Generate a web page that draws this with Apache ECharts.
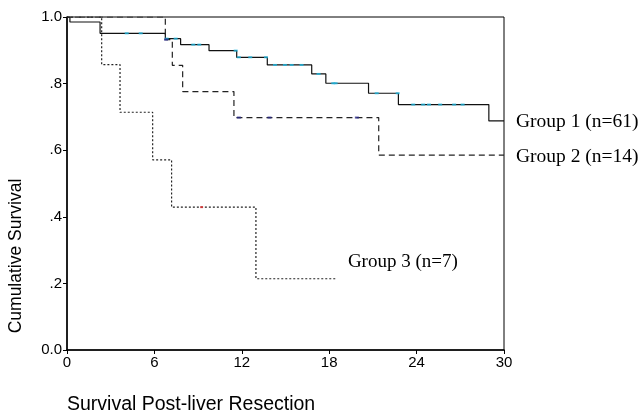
<!DOCTYPE html>
<html><head><meta charset="utf-8">
<script src="https://cdn.jsdelivr.net/npm/echarts@6/dist/echarts.min.js"></script>
<style>html,body{margin:0;padding:0;background:#fff}#c{width:644px;height:418px}</style>
</head><body><div id="c"></div>
<script>
// Kaplan-Meier step data (time in months, cumulative survival)
const g1Times = [0, 0.2, 2.27, 6.75, 7.8, 9.75, 11.65, 13.75, 16.8, 17.77, 20.7, 22.75, 28.96, 30];
const g1Surv  = [1.0, 0.985, 0.951, 0.935, 0.917, 0.899, 0.879, 0.856, 0.829, 0.801, 0.771, 0.737, 0.688, 0.688];
const g2Times = [0, 6.75, 7.23, 7.94, 11.46, 21.4, 30];
const g2Surv  = [1.0, 0.932, 0.855, 0.776, 0.698, 0.585, 0.585];
const g3Times = [0, 2.38, 3.64, 5.88, 7.18, 12.97, 18.46];
const g3Surv  = [1.0, 0.857, 0.714, 0.571, 0.429, 0.214, 0.214];
// censored observation times
const g1Censor = [4.10, 5.06, 6.84, 7.46, 8.67, 9.08, 11.58, 11.8, 12.58, 13.66, 14.28, 14.96, 15.42, 16.1, 17.27, 18.28, 18.44, 21.26, 22.7, 23.77, 24.45, 24.85, 25.62, 26.58, 27.16];
const g2Censor = [6.8, 11.8, 13.9, 19.9];
const g3Censor = [9.24];
const groupLabels = ['Group 1 (n=61)', 'Group 2 (n=14)', 'Group 3 (n=7)'];
const xTicks = [0, 6, 12, 18, 24, 30];
const yTickLabels = {0: '0.0', 0.2: '.2', 0.4: '.4', 0.6: '.6', 0.8: '.8', 1: '1.0'};
const xTitle = 'Survival Post-liver Resection';
const yTitle = 'Cumulative Survival';

function pairs(t, s) { return t.map((v, i) => [v, s[i]]); }
function survAt(t, times, surv) {
  let v = surv[0];
  for (let i = 0; i < times.length; i++) if (times[i] <= t) v = surv[i];
  return v;
}
function censorPts(c, times, surv) { return c.map(t => [t, survAt(t, times, surv)]); }

const chart = echarts.init(document.getElementById('c'), null, {renderer: 'canvas'});
const sans = 'Liberation Sans, Arial, sans-serif';
const serif = 'Liberation Serif, Times New Roman, serif';
chart.setOption({
  animation: false,
  grid: {left: 67, right: 140, top: 17, bottom: 68, show: true, borderColor: '#000', borderWidth: 1, backgroundColor: 'transparent'},
  xAxis: {
    type: 'value', min: 0, max: 30, interval: 6,
    axisLine: {lineStyle: {color: '#000', width: 1.5}},
    axisTick: {show: true, length: 4, lineStyle: {color: '#000'}},
    axisLabel: {color: '#000', fontFamily: sans, fontSize: 15, margin: 5,
      formatter: v => xTicks.includes(v) ? String(v) : ''},
    splitLine: {show: false}
  },
  yAxis: {
    type: 'value', min: 0, max: 1, interval: 0.2,
    axisLine: {show: true, lineStyle: {color: '#000', width: 1.5}},
    axisTick: {show: true, length: 4, lineStyle: {color: '#000'}},
    axisLabel: {color: '#000', fontFamily: sans, fontSize: 15, margin: 5,
      formatter: v => yTickLabels[Math.round(v * 10) / 10] || ''},
    splitLine: {show: false}
  },
  graphic: [
    {type: 'text', left: 67, top: 395,
     style: {text: xTitle, fill: '#000', font: '19.5px ' + sans}},
    {type: 'text', x: 16, y: 256, rotation: Math.PI / 2,
     style: {text: yTitle, fill: '#000', font: '17.5px ' + sans, align: 'center', verticalAlign: 'middle'}}
  ],
  series: [
    {type: 'line', step: 'end', data: pairs(g1Times, g1Surv), symbol: 'none',
     lineStyle: {color: '#111', width: 1.2, type: 'solid'},
     endLabel: {show: true, formatter: groupLabels[0], color: '#000', fontFamily: serif, fontSize: 19.5, distance: 12, offset: [0, 1]}},
    {type: 'line', step: 'end', data: pairs(g2Times, g2Surv), symbol: 'none',
     lineStyle: {color: '#222', width: 1.2, type: [6, 4]},
     endLabel: {show: true, formatter: groupLabels[1], color: '#000', fontFamily: serif, fontSize: 19.5, distance: 12, offset: [0, 2]}},
    {type: 'line', step: 'end', data: pairs(g3Times, g3Surv), symbol: 'none',
     lineStyle: {color: '#222', width: 1.2, type: [2, 2]},
     endLabel: {show: true, formatter: groupLabels[2], color: '#000', fontFamily: serif, fontSize: 19, distance: 12, offset: [0, -17]}},
    {type: 'scatter', data: censorPts(g1Censor, g1Times, g1Surv), symbol: 'rect', symbolSize: [4, 2],
     itemStyle: {color: '#1fb4dc'}, z: 5},
    {type: 'scatter', data: censorPts(g2Censor, g2Times, g2Surv), symbol: 'rect', symbolSize: [4, 2],
     itemStyle: {color: '#2a2a8a'}, z: 5},
    {type: 'scatter', data: censorPts(g3Censor, g3Times, g3Surv), symbol: 'rect', symbolSize: [3, 2],
     itemStyle: {color: '#e03030'}, z: 5}
  ]
});
</script></body></html>
